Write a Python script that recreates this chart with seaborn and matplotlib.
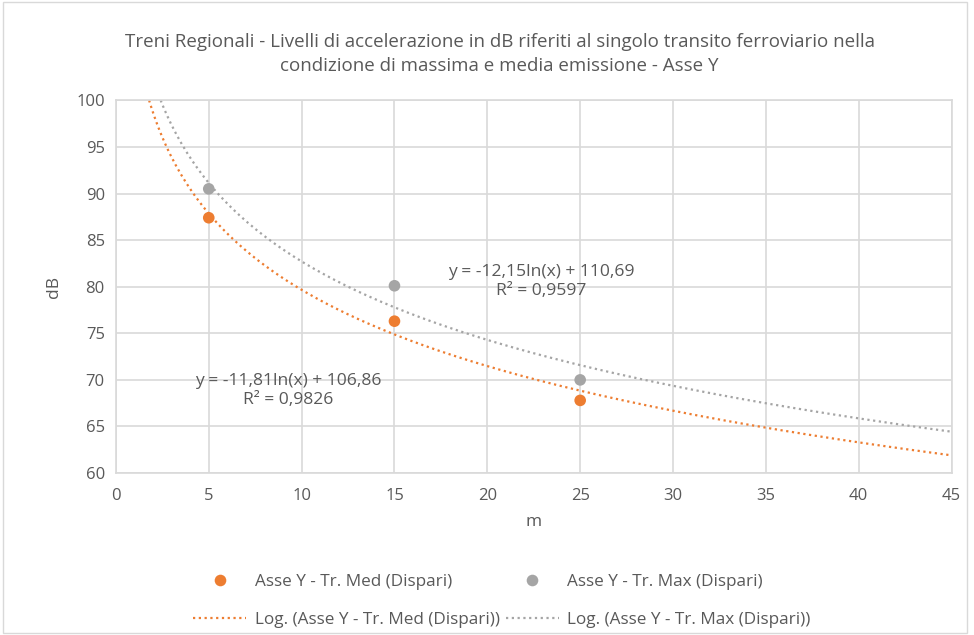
import numpy as np
import pandas as pd
import matplotlib.pyplot as plt
import seaborn as sns

# distances (m) and measured levels (dB)
distanze = [5, 15, 25]
med_db = [87.4, 76.3, 67.8]
max_db = [90.5, 80.1, 70.0]

# logarithmic trend coefficients shown on the chart
med_coef = (-11.81, 106.86, 0.9826)
max_coef = (-12.15, 110.69, 0.9597)

lbl_med = "Asse Y - Tr. Med (Dispari)"
lbl_max = "Asse Y - Tr. Max (Dispari)"

ORANGE = "#ED7D31"
GRAY = "#A5A5A5"
TXT = "#595959"

sns.set_theme(style="whitegrid")
plt.rcParams["font.family"] = ["Open Sans", "DejaVu Sans"]

fig = plt.figure(figsize=(9.74, 6.35), dpi=100)
ax = fig.add_axes([0.119, 0.255, 0.858, 0.587])

pts = pd.DataFrame({
    "m": distanze * 2,
    "dB": med_db + max_db,
    "serie": [lbl_med] * 3 + [lbl_max] * 3,
})


def trend(coef):
    a, b, _ = coef
    x0 = np.exp((b - 100) / -a)
    x = np.linspace(x0, 45, 300)
    return pd.DataFrame({"m": x, "dB": a * np.log(x) + b})


t_med = trend(med_coef)
t_max = trend(max_coef)

sns.lineplot(data=t_med, x="m", y="dB", ax=ax, color=ORANGE, lw=1.6,
             linestyle=(0, (1, 1.6)), label="Log. (" + lbl_med + ")")
sns.lineplot(data=t_max, x="m", y="dB", ax=ax, color=GRAY, lw=1.6,
             linestyle=(0, (1, 1.6)), label="Log. (" + lbl_max + ")")
sns.scatterplot(data=pts, x="m", y="dB", hue="serie", ax=ax,
                palette={lbl_med: ORANGE, lbl_max: GRAY}, s=70,
                edgecolor="none", zorder=5)

ax.set_xlim(0, 45)
ax.set_ylim(60, 100)
ax.set_xticks(range(0, 46, 5))
ax.set_yticks(range(60, 101, 5))
ax.grid(True, color="#D9D9D9", lw=1.2)
for s in ax.spines.values():
    s.set_color("#D9D9D9")
    s.set_linewidth(1.2)
ax.tick_params(colors=TXT, labelsize=12, length=0)
ax.tick_params(axis="x", pad=11)
ax.tick_params(axis="y", pad=8)
ax.set_xlabel("m", color=TXT, fontsize=12.5, labelpad=7)
ax.set_ylabel("dB", color=TXT, fontsize=12.5, labelpad=10)

ax.text(22.9, 80.6, "y = -12,15ln(x) + 110,69\nR² = 0,9597", ha="center",
        va="center", color=TXT, fontsize=12.6, linespacing=1.25)
ax.text(9.3, 68.9, "y = -11,81ln(x) + 106,86\nR² = 0,9826", ha="center",
        va="center", color=TXT, fontsize=12.6, linespacing=1.25)

fig.text(0.513, 0.915,
         "Treni Regionali - Livelli di accelerazione in dB riferiti al singolo transito ferroviario nella\n"
         "condizione di massima e media emissione - Asse Y",
         ha="center", va="center", color=TXT, fontsize=13.5, linespacing=1.45)

h, l = ax.get_legend_handles_labels()
# column-major order so row 1 = points, row 2 = trend lines
order = [l.index(lbl_med), l.index("Log. (" + lbl_med + ")"),
         l.index(lbl_max), l.index("Log. (" + lbl_max + ")")]
ax.legend([h[i] for i in order], [l[i] for i in order], ncol=2,
          loc="upper center", bbox_to_anchor=(0.462, -0.253), frameon=False,
          fontsize=12.3, labelcolor=TXT, handlelength=3.1, columnspacing=0.35,
          handletextpad=0.5, borderaxespad=0, labelspacing=1.3)

fig.patches.append(plt.Rectangle((0.003, 0.003), 0.99, 0.994, transform=fig.transFigure,
                                 fill=False, edgecolor="#D9D9D9", lw=1))

fig.savefig("out.png", dpi=100)
